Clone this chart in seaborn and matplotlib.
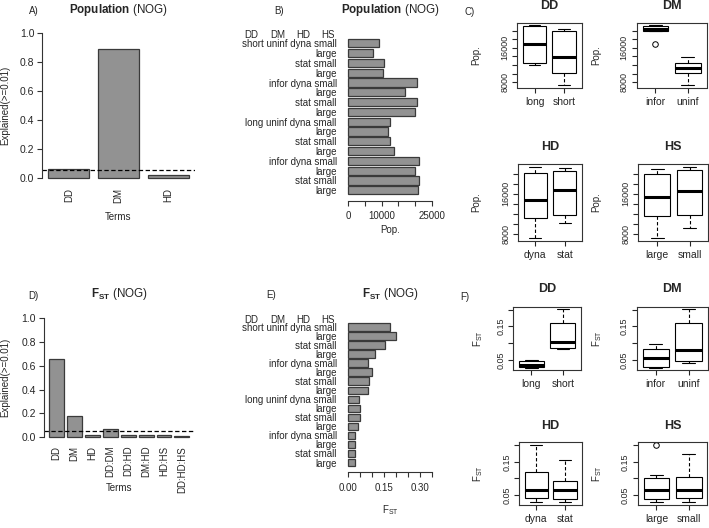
import numpy as np
import pandas as pd
import matplotlib
matplotlib.use("Agg")
import matplotlib.pyplot as plt
import seaborn as sns

# ── data ─────────────────────────────────────────────────────────────────────
terms_pop = ["DD", "DM", "HD"]
explained_pop = [0.058, 0.889, 0.021]

terms_fst = ["DD", "DM", "HD", "DD:DM", "DD:HD", "DM:HD", "HD:HS", "DD:HD:HS"]
explained_fst = [0.655, 0.180, 0.020, 0.070, 0.013, 0.013, 0.013, 0.012]

threshold = 0.05

# factor levels for the 16 scenarios (top to bottom in panels B/E)
dd = ["short"] * 8 + ["long"] * 8
dm = (["uninf"] * 4 + ["infor"] * 4) * 2
hd = (["dyna"] * 2 + ["stat"] * 2) * 4
hs = ["small", "large"] * 8

pop = [9200, 7300, 10600, 10300, 20500, 17000, 20500, 19850,
       12500, 11950, 12350, 13800, 21300, 20100, 21100, 21000]
fst = [0.174, 0.202, 0.156, 0.111, 0.082, 0.099, 0.085, 0.083,
       0.045, 0.049, 0.047, 0.041, 0.027, 0.029, 0.028, 0.028]

pop_ticks = [0, 5000, 10000, 15000, 20000, 25000]
pop_ticklabels = ["0", "", "10000", "", "", "25000"]
fst_ticks = [0.0, 0.05, 0.10, 0.15, 0.20, 0.25, 0.30, 0.35]
fst_ticklabels = ["0.00", "", "", "0.15", "", "", "0.30", ""]

pop_box_ticks = [8000, 10000, 12000, 14000, 16000, 18000, 20000]
pop_box_labels = ["8000", "", "", "", "16000", "", ""]
fst_box_ticks = [0.05, 0.10, 0.15, 0.20]
fst_box_labels = ["0.05", "", "0.15", ""]

expl_ticks = [0.0, 0.2, 0.4, 0.6, 0.8, 1.0]

df = pd.DataFrame({"DD": dd, "DM": dm, "HD": hd, "HS": hs, "pop": pop, "fst": fst})

# ── style ────────────────────────────────────────────────────────────────────
sns.set_style("white")
plt.rcParams["font.family"] = ["Liberation Sans", "DejaVu Sans"]
plt.rcParams["mathtext.fontset"] = "custom"
plt.rcParams["mathtext.rm"] = "Liberation Sans"
plt.rcParams["mathtext.bf"] = "Liberation Sans:bold"
plt.rcParams["mathtext.it"] = "Liberation Sans:italic"
plt.rcParams["axes.linewidth"] = 0.8

BAR = "#929292"
EDGE = "#3a3a3a"
FS = 7

W, H = 709, 528
fig = plt.figure(figsize=(W / 100, H / 100), dpi=100)


def px_axes(l, t, r, b):
    return fig.add_axes([l / W, 1 - b / H, (r - l) / W, (b - t) / H])


def r_lim(lo, hi):
    # R's default 4 % axis padding
    d = 0.04 * (hi - lo)
    return lo - d, hi + d


def r_bar_lim(n):
    # R barplot (width 1, space 0.2) extent, mapped onto seaborn's category coords
    span = 1.2 * n - 0.2
    return (0.2 - 0.04 * span - 0.7) / 1.2, (1.2 * n + 0.04 * span - 0.7) / 1.2


def place_title(ax, text, y_px, size=8.4):
    l, b, w, h = ax.get_position().bounds
    yf = ((1 - y_px / H) - b) / h
    ax.set_title(text, y=yf, va="center", fontsize=size, pad=0)


def place_xlabel(ax, text, y_px):
    l, b, w, h = ax.get_position().bounds
    ax.set_xlabel(text, fontsize=FS)
    ax.xaxis.set_label_coords(0.5, ((1 - y_px / H) - b) / h)
    ax.xaxis.label.set_va("center")


def place_ylabel(ax, text, x_px):
    l, b, w, h = ax.get_position().bounds
    ax.set_ylabel(text, fontsize=FS)
    ax.yaxis.set_label_coords((x_px / W - l) / w, 0.5)
    ax.yaxis.label.set_va("center")


# ── A / D: variance explained by terms ──────────────────────────────────────
def term_panel(ax, terms, vals, title, title_y, xlab_y):
    sns.barplot(x=terms, y=vals, color=BAR, edgecolor=EDGE, linewidth=0.9,
                width=1 / 1.2, saturation=1, errorbar=None, ax=ax)
    ax.axhline(threshold, color="black", ls=(0, (3.5, 2)), lw=0.9)
    ax.set_xlim(*r_bar_lim(len(terms)))
    ax.set_ylim(*r_lim(0, 1))
    ax.set_yticks(expl_ticks)
    ax.set_yticklabels([f"{t:.1f}" for t in expl_ticks], fontsize=7.5)
    for s in ["top", "right", "bottom"]:
        ax.spines[s].set_visible(False)
    ax.spines["left"].set_bounds(0, 1)
    ax.spines["left"].set_color("#333333")
    ax.tick_params(axis="x", length=0, labelrotation=90, pad=3, labelsize=FS)
    ax.tick_params(axis="y", left=True, length=3.8, width=0.8, pad=2, color="#333333")
    place_title(ax, title, title_y)
    place_xlabel(ax, "Terms", xlab_y)
    place_ylabel(ax, "Explained(>=0.01)", 5)


axA = px_axes(42.4, 27.6, 194.6, 183.4)
term_panel(axA, terms_pop, explained_pop, r"$\mathbf{Population}$ (NOG)", 10, 217)

axD = px_axes(43.7, 313.6, 194.9, 441.7)
term_panel(axD, terms_fst, explained_fst, r"$\mathbf{F_{ST}}$ (NOG)", 294, 488)

# ── B / E: value per scenario ───────────────────────────────────────────────
factors = list(zip(dd, dm, hd, hs))
combos = [" ".join(f) for f in factors]
row_labels = []
for i, f in enumerate(factors):
    k = 0 if i == 0 else next(j for j in range(4) if f[j] != factors[i - 1][j])
    row_labels.append(" ".join(f[k:]))


def row_panel(ax, vals, ticks, ticklabels, xlabel, title, title_y, head_y, xlab_y):
    sns.barplot(x=vals, y=combos, orient="h", color=BAR, edgecolor=EDGE,
                linewidth=0.9, width=1 / 1.2, saturation=1, errorbar=None, ax=ax)
    lo, hi = r_bar_lim(len(combos))
    ax.set_ylim(hi, lo)
    ax.set_xlim(*r_lim(0, ticks[-1]))
    ax.set_yticks(range(len(combos)))
    ax.set_yticklabels(row_labels, fontsize=FS)
    ax.set_xticks(ticks)
    ax.set_xticklabels(ticklabels, fontsize=FS)
    for s in ["top", "right", "left"]:
        ax.spines[s].set_visible(False)
    ax.spines["bottom"].set_bounds(0, ticks[-1])
    ax.spines["bottom"].set_color("#333333")
    ax.tick_params(axis="y", length=0, pad=6)
    ax.tick_params(axis="x", bottom=True, length=3.8, width=0.8, pad=4, color="#333333")
    ax.set_ylabel("")
    place_title(ax, title, title_y)
    place_xlabel(ax, xlabel, xlab_y)
    for name, xc in zip(["DD", "DM", "HD", "HS"], [251.7, 277.5, 303.3, 327.5]):
        fig.text(xc / W, 1 - head_y / H, name, ha="center", va="center", fontsize=FS)


axB = px_axes(345, 33.1, 435, 200.5)
row_panel(axB, pop, pop_ticks, pop_ticklabels, "Pop.",
          r"$\mathbf{Population}$ (NOG)", 9.5, 34.5, 230)

axE = px_axes(345, 317.6, 435, 472)
row_panel(axE, fst, fst_ticks, fst_ticklabels, r"$\mathregular{F_{ST}}$",
          r"$\mathbf{F_{ST}}$ (NOG)", 294, 319.6, 510)


# ── C / F: boxplots per factor ──────────────────────────────────────────────
def box_panel(rect, factor, col, ticks, ticklabels, ylabel, ylab_x, title_y):
    ax = px_axes(*rect)
    order = sorted(set(df[factor]))
    sns.boxplot(data=df, x=factor, y=col, order=order, color="white",
                linecolor="black", linewidth=0.8, saturation=1, width=0.8,
                whis=1.5,
                whiskerprops=dict(linestyle=(0, (3, 2))),
                medianprops=dict(linewidth=2.2),
                flierprops=dict(marker="o", markerfacecolor="none",
                                markeredgecolor="black", markersize=4,
                                markeredgewidth=0.7),
                ax=ax)
    ax.set_xlim(-0.58, 1.58)
    ax.set_ylim(*r_lim(df[col].min(), df[col].max()))
    ax.set_yticks(ticks)
    ax.set_yticklabels(ticklabels, fontsize=6.5, rotation=90, va="center")
    ax.tick_params(axis="x", bottom=True, length=3.8, width=0.8, pad=3, labelsize=7.5)
    ax.tick_params(axis="y", left=True, length=3.8, width=0.8, pad=2)
    for s in ax.spines.values():
        s.set_visible(True)
        s.set_color("#333333")
    ax.set_xlabel("")
    place_ylabel(ax, ylabel, ylab_x)
    place_title(ax, factor, title_y, size=9)
    ax.title.set_fontweight("bold")
    return ax


box_panel((517.3, 22.7, 581.5, 87.5), "DD", "pop", pop_box_ticks, pop_box_labels, "Pop.", 476.7, 6)
box_panel((636.7, 22.7, 706.7, 87.5), "DM", "pop", pop_box_ticks, pop_box_labels, "Pop.", 596.7, 6)
box_panel((518.3, 164.3, 581.7, 240.7), "HD", "pop", pop_box_ticks, pop_box_labels, "Pop.", 476.7, 147)
box_panel((638.3, 164.3, 708.3, 240.7), "HS", "pop", pop_box_ticks, pop_box_labels, "Pop.", 596.7, 147)

fst_lab = r"$\mathregular{F_{ST}}$"
box_panel((513.3, 306.7, 581, 370), "DD", "fst", fst_box_ticks, fst_box_labels, fst_lab, 478, 289)
box_panel((636.7, 306.7, 707.7, 370), "DM", "fst", fst_box_ticks, fst_box_labels, fst_lab, 596.7, 289)
box_panel((519.3, 442.3, 581.7, 504.7), "HD", "fst", fst_box_ticks, fst_box_labels, fst_lab, 478, 426)
box_panel((637.7, 442.3, 707.3, 504.7), "HS", "fst", fst_box_ticks, fst_box_labels, fst_lab, 596.7, 426)

# panel letters
for letter, x, y in [("A)", 33.7, 11), ("B)", 278.7, 11), ("C)", 469.5, 11.7),
                     ("D)", 33.7, 295.7), ("E)", 270.8, 295), ("F)", 464.5, 297.3)]:
    fig.text(x / W, 1 - y / H, letter, ha="center", va="center", fontsize=7)

plt.savefig("out.png", dpi=100)
